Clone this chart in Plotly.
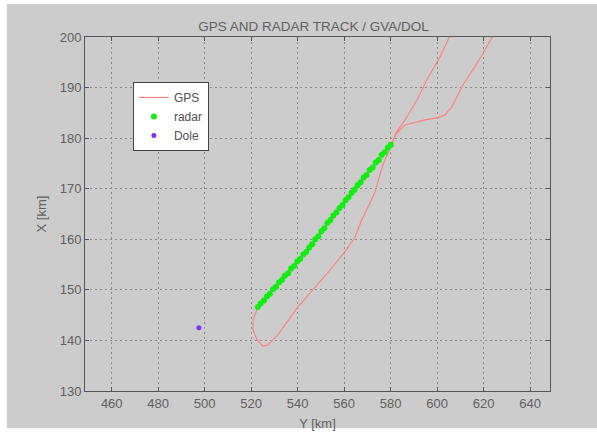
import plotly.graph_objects as go

# GPS track (Y = east, X = north, km)
gps_y = [605.5, 601.2, 596.0, 591.3, 586.2, 582.3, 579.7, 576.7, 573.2, 570.2,
         567.2, 564.6, 560.3, 553.9, 546.6, 539.7, 531.5, 527.2, 525.1, 522.5,
         520.8, 520.8, 522.9, 544.4, 553.9, 567.7, 580.6, 582.3, 586.2, 589.6,
         594.8, 600.0, 603.4, 606.4, 608.5, 611.1, 615.4, 619.3, 624.0]
gps_x = [200.2, 196.0, 191.9, 187.5, 183.6, 181.0, 178.0, 174.7, 169.2, 166.4,
         163.4, 160.3, 157.5, 153.9, 150.0, 146.4, 141.1, 139.1, 138.9, 140.1,
         142.1, 144.0, 146.6, 157.9, 163.8, 171.7, 179.0, 180.8, 182.6, 183.0,
         183.6, 184.0, 184.6, 186.2, 188.1, 190.5, 193.5, 196.4, 200.2]

# Radar plots
radar_y = [522.9, 524.1, 525.5, 526.8, 528.0, 529.4, 530.7, 532.0, 533.3, 534.5,
           535.9, 537.2, 538.5, 539.8, 541.1, 542.4, 543.7, 545.0, 546.3, 547.6,
           548.9, 550.2, 551.5, 552.8, 554.1, 555.4, 556.7, 558.0, 559.3, 560.6,
           561.9, 563.2, 564.5, 565.8, 567.1, 568.4, 569.7, 571.0, 572.3, 573.6,
           574.9, 576.2, 577.5, 578.8, 580.1]
radar_x = [146.6, 147.3, 147.9, 148.7, 149.2, 150.1, 150.6, 151.5, 152.0, 152.8,
           153.3, 154.2, 154.7, 155.6, 156.1, 157.0, 157.5, 158.4, 159.0, 160.0,
           160.6, 161.6, 162.2, 163.2, 163.8, 164.7, 165.3, 166.2, 166.8, 167.7,
           168.3, 169.2, 169.8, 170.7, 171.3, 172.2, 172.7, 173.7, 174.2, 175.2,
           175.7, 176.7, 177.2, 178.1, 178.7]

# Dole site
dole_y = [497.5]
dole_x = [142.5]

y_ticks = [460, 480, 500, 520, 540, 560, 580, 600, 620, 640]
x_ticks = [130, 140, 150, 160, 170, 180, 190, 200]

fig = go.Figure()
fig.add_trace(go.Scatter(x=gps_y, y=gps_x, mode="lines", name="GPS",
                         line=dict(color="#ff8080", width=1.2)))
fig.add_trace(go.Scatter(x=radar_y, y=radar_x, mode="markers", name="radar",
                         marker=dict(color="#11ee11", size=6, line=dict(width=0))))
fig.add_trace(go.Scatter(x=dole_y, y=dole_x, mode="markers", name="Dole",
                         marker=dict(color="#8030ff", size=5, line=dict(width=0))))

font = dict(family="Liberation Sans, Arial, sans-serif", size=13, color="#606060")
axis_common = dict(showline=True, linecolor="#555555", linewidth=1, mirror="ticks",
                   ticks="inside", ticklen=4, tickcolor="#555555",
                   showgrid=True, gridcolor="#888888", griddash="2px,3px", gridwidth=1,
                   zeroline=False, tickfont=font)

fig.update_layout(
    width=597, height=441,
    margin=dict(l=85, r=47, t=37, b=50),
    paper_bgcolor="white",
    plot_bgcolor="white",
    font=font,
    title=dict(text="GPS AND RADAR TRACK / GVA/DOL", x=0.525, xanchor="center",
               y=0.941, yanchor="middle", font=dict(size=13.5, color="#606060")),
    xaxis=dict(range=[448.5, 648.6], tickvals=y_ticks,
               title=dict(text="Y [km]", standoff=9, font=font), **axis_common),
    yaxis=dict(range=[130, 200], tickvals=x_ticks,
               title=dict(text="X [km]", standoff=10, font=font), **axis_common),
    showlegend=True,
    legend=dict(x=0.103, y=0.873, xanchor="left", yanchor="top",
                bgcolor="white", bordercolor="#444444", borderwidth=1,
                font=dict(family="Liberation Sans, Arial, sans-serif", size=12,
                          color="#505050"),
                tracegroupgap=0, itemwidth=30, entrywidth=80),
    shapes=[dict(type="rect", xref="paper", yref="paper",
                 x0=-0.168, x1=1.11, y0=-0.105, y1=1.093,
                 fillcolor="#cccccc", line=dict(width=0), layer="below")],
)

fig.write_html("out.html")
